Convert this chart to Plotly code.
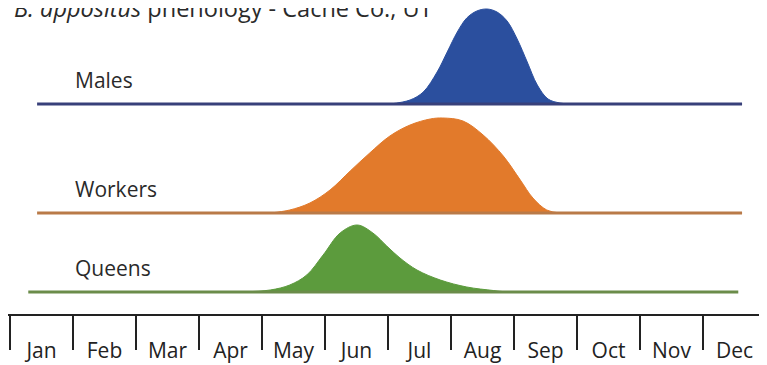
import plotly.graph_objects as go

# months on the timeline (x = months since 1 Jan)
months = ["Jan", "Feb", "Mar", "Apr", "May", "Jun",
          "Jul", "Aug", "Sep", "Oct", "Nov", "Dec"]

# relative abundance curves
males_x = [6.03, 6.35, 6.56, 6.78, 6.94, 7.10, 7.25, 7.41, 7.57, 7.73,
           7.89, 8.05, 8.21, 8.37, 8.54, 8.73, 8.89]
males_y = [0, 4, 12, 32, 52, 72, 86, 93, 95, 92, 83, 65, 42, 19, 5, 1, 0]

workers_x = [4.13, 4.44, 4.76, 5.08, 5.40, 5.71, 6.03, 6.35, 6.67, 6.87,
             7.19, 7.51, 7.83, 8.10, 8.30, 8.52, 8.73]
workers_y = [0, 3, 10, 23, 42, 60, 77, 88, 94, 95, 92, 78, 57, 33, 15, 3, 0]

queens_x = [3.65, 4.13, 4.44, 4.71, 4.97, 5.24, 5.51, 5.76, 5.98, 6.19,
            6.46, 6.83, 7.25, 7.67, 7.89]
queens_y = [0, 2, 7, 17, 37, 59, 67, 59, 46, 34, 22, 12, 5, 1.5, 0]

# (label, x, y, baseline offset, x extent, fill, line)
rows = [
    ("Males", males_x, males_y, 210, (0.43, 11.62), "#2b4f9e", "#38407a"),
    ("Workers", workers_x, workers_y, 101, (0.43, 11.62), "#e27a2b", "#b97a48"),
    ("Queens", queens_x, queens_y, 22, (0.29, 11.56), "#5c9b3d", "#6b8c4a"),
]

fig = go.Figure()
for name, xs, ys, base, (x0, x1), fill, line in rows:
    fig.add_trace(go.Scatter(x=xs, y=[base] * len(xs), mode="lines",
                             line=dict(width=0), hoverinfo="skip", showlegend=False))
    fig.add_trace(go.Scatter(x=xs, y=[base + v for v in ys], mode="lines",
                             line=dict(color=fill, width=1, shape="spline", smoothing=1),
                             fill="tonexty", fillcolor=fill, name=name, showlegend=False))
    fig.add_trace(go.Scatter(x=[x0, x1], y=[base, base], mode="lines",
                             line=dict(color=line, width=3), hoverinfo="skip", showlegend=False))
    fig.add_annotation(x=1.0, y=base + 24, text=name, showarrow=False,
                       xanchor="left", yanchor="middle",
                       font=dict(size=21, color="#2a2a2a"))

# title sits at the very top edge and is partly cut off, as in the source
fig.add_annotation(xref="paper", yref="paper", x=4 / 767, y=1.0,
                   text="<i>B. appositus</i> phenology - Cache Co., UT",
                   showarrow=False, xanchor="left", yanchor="middle",
                   font=dict(size=23.5, color="#2a2a2a"))

# the page body adds an 8px margin, so the figure is laid out 8px up/left
xr = [-2 / 63, 765 / 63]
fig.update_layout(
    width=767, height=365,
    margin=dict(l=0, r=0, t=0, b=59),
    paper_bgcolor="white", plot_bgcolor="white",
    font=dict(family="Open Sans", color="#222222"),
    xaxis=dict(range=xr, tickvals=list(range(13)), ticktext=[""] * 13,
               ticks="outside", ticklen=34, tickwidth=2, tickcolor="#222222",
               showline=True, linecolor="#222222", linewidth=2,
               showgrid=False, zeroline=False),
    xaxis2=dict(range=xr, overlaying="x", anchor="y", side="bottom",
                tickvals=[i + 0.5 for i in range(12)], ticktext=months,
                ticks="", ticklabelstandoff=22, tickfont=dict(size=21, color="#222222"),
                showgrid=False, zeroline=False, showline=False),
    yaxis=dict(range=[0, 306], visible=False),
)
# dummy trace to activate the label axis
fig.add_trace(go.Scatter(x=[0], y=[0], xaxis="x2", mode="markers",
                         marker=dict(opacity=0), hoverinfo="skip", showlegend=False))

fig.write_html("out.html")
